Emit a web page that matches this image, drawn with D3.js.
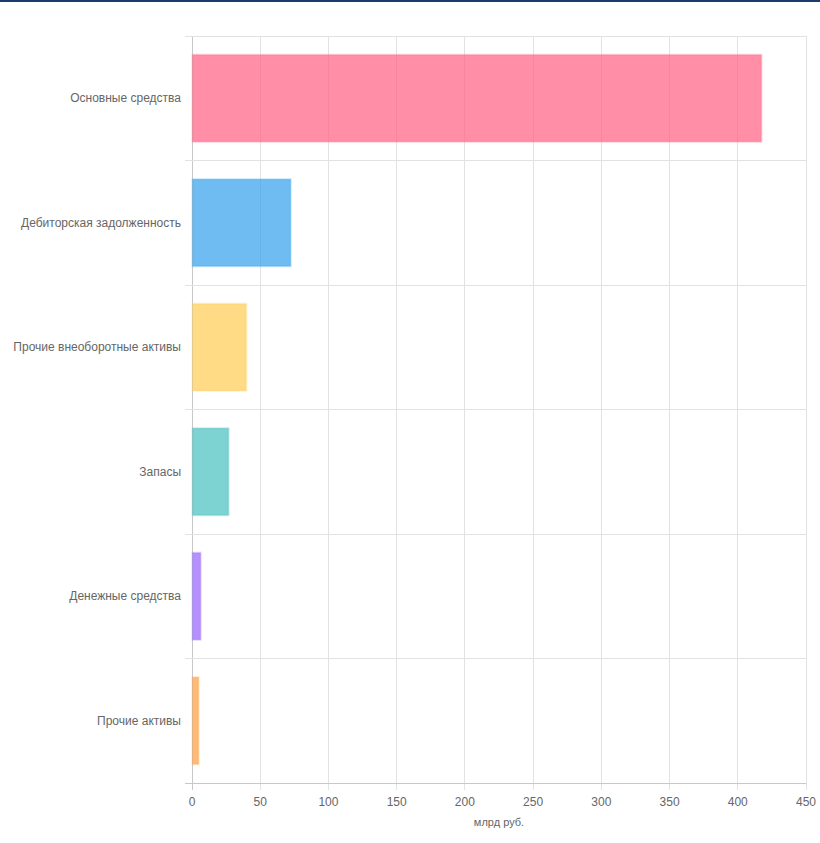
<!DOCTYPE html>
<html><head><meta charset="utf-8">
<script src="https://cdn.jsdelivr.net/npm/d3@7"></script>
<style>body{margin:0;background:#fff;font-family:"Liberation Sans",Arial,sans-serif}</style>
</head><body><svg id="c" width="820" height="843"></svg>
<script>
const categories=["Основные средства","Дебиторская задолженность","Прочие внеоборотные активы","Запасы","Денежные средства","Прочие активы"];
const values=[417,72,39.5,26.5,6,4.5];
const colors=["255,99,132","54,162,235","255,205,86","75,192,192","153,102,255","255,159,64"];
const xTicks=[0,50,100,150,200,250,300,350,400,450];
const axisTitle="млрд руб.";

const svg=d3.select("#c");
svg.append("rect").attr("x",0).attr("y",0).attr("width",820).attr("height",2).attr("fill","#1f3a6e");
const L=192,R=806,T=36,B=783;
const x=d3.scaleLinear().domain([0,450]).range([L,R]);
const y=d3.scaleBand().domain(categories).range([T,B]).paddingInner(0.3).paddingOuter(0.15);
const bw=(B-T)/categories.length;
const g=svg.append("g");
// vertical grid
xTicks.forEach(t=>{g.append("line").attr("x1",x(t)).attr("x2",x(t)).attr("y1",T).attr("y2",B+7)
 .attr("stroke",t===0?"#c8c8c8":"#e2e2e2").attr("stroke-width",1).attr("shape-rendering","crispEdges");});
// horizontal grid
for(let i=0;i<=categories.length;i++){const yy=T+i*bw;
 g.append("line").attr("x1",L-7).attr("x2",R).attr("y1",yy).attr("y2",yy)
 .attr("stroke",i===categories.length?"#c8c8c8":"#e2e2e2").attr("shape-rendering","crispEdges");}
// bars
svg.selectAll("rect.bar").data(categories).enter().append("rect").attr("class","bar")
 .attr("x",x(0)+0.5).attr("y",d=>y(d)).attr("height",y.bandwidth())
 .attr("width",(d,i)=>x(values[i])-x(0))
 .attr("fill",(d,i)=>`rgba(${colors[i]},0.72)`)
 .attr("stroke",(d,i)=>`rgba(${colors[i]},0.25)`).attr("stroke-width",2);
// labels
svg.selectAll("text.cat").data(categories).enter().append("text")
 .attr("x",L-11).attr("y",d=>y(d)+y.bandwidth()/2).attr("dy","0.35em").attr("text-anchor","end")
 .attr("font-size",12).attr("fill","#666").text(d=>d);
svg.selectAll("text.xt").data(xTicks).enter().append("text")
 .attr("x",d=>x(d)).attr("y",802).attr("dy","0.35em").attr("text-anchor","middle")
 .attr("font-size",12).attr("fill","#666").text(d=>d);
svg.append("text").attr("x",(L+R)/2).attr("y",822).attr("dy","0.35em").attr("text-anchor","middle")
 .attr("font-size",11).attr("fill","#666").text(axisTitle);
</script></body></html>
